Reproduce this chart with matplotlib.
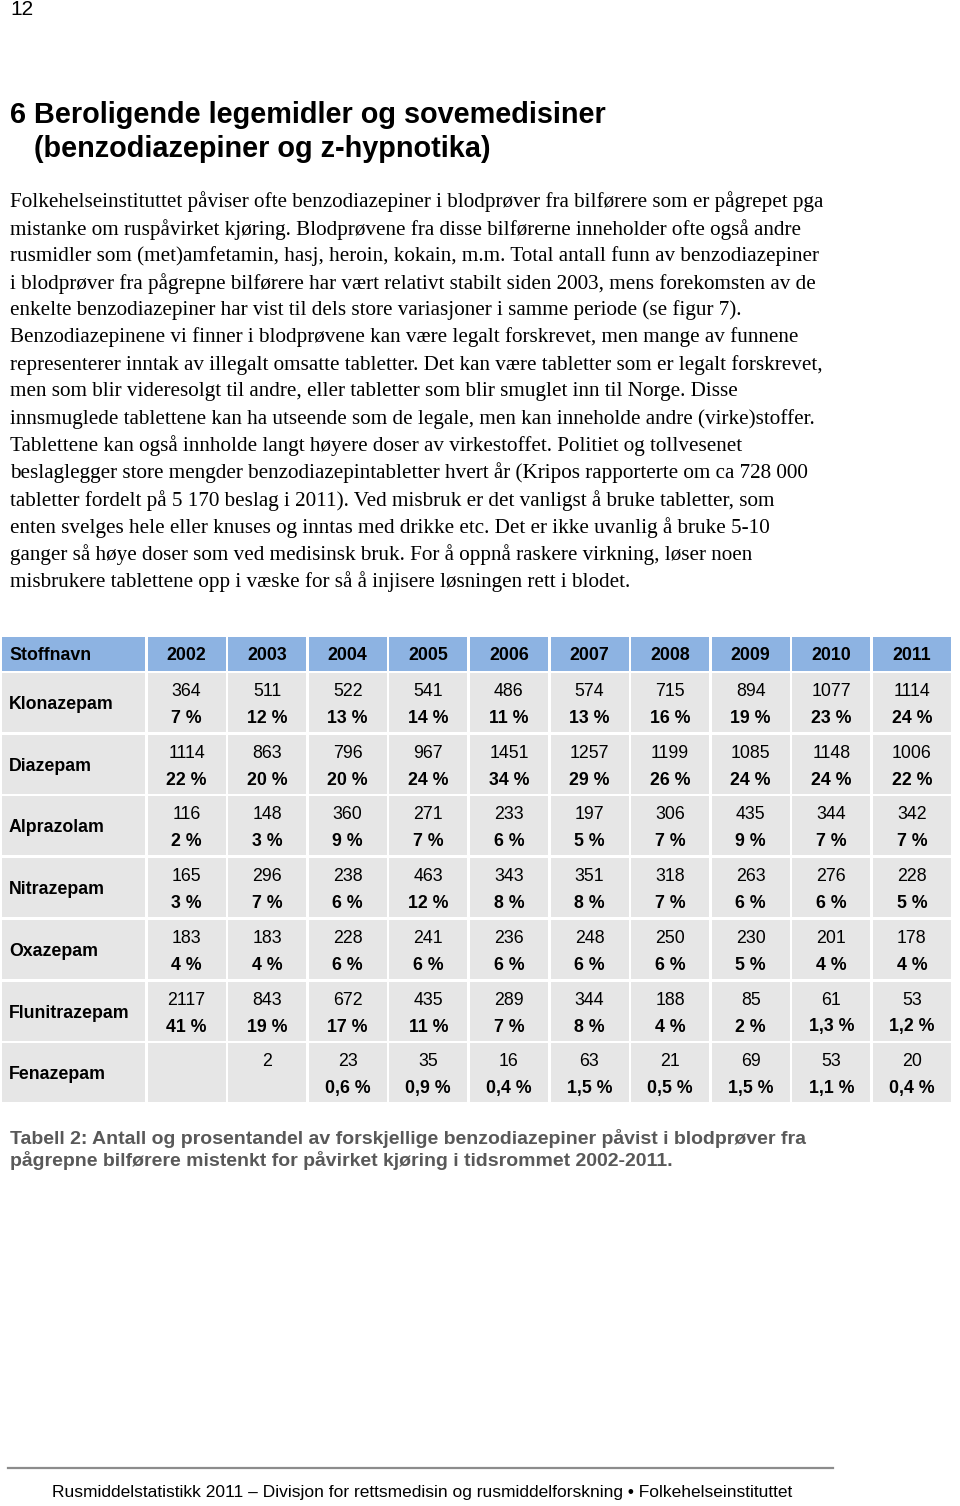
import matplotlib.pyplot as plt
from matplotlib.patches import Rectangle

W, H = 960, 1506

names = ["Klonazepam", "Diazepam", "Alprazolam", "Nitrazepam", "Oxazepam",
         "Flunitrazepam", "Fenazepam"]
years = [2002, 2003, 2004, 2005, 2006, 2007, 2008, 2009, 2010, 2011]

counts = [
    [364, 511, 522, 541, 486, 574, 715, 894, 1077, 1114],
    [1114, 863, 796, 967, 1451, 1257, 1199, 1085, 1148, 1006],
    [116, 148, 360, 271, 233, 197, 306, 435, 344, 342],
    [165, 296, 238, 463, 343, 351, 318, 263, 276, 228],
    [183, 183, 228, 241, 236, 248, 250, 230, 201, 178],
    [2117, 843, 672, 435, 289, 344, 188, 85, 61, 53],
    [None, 2, 23, 35, 16, 63, 21, 69, 53, 20],
]
percents = [
    [7, 12, 13, 14, 11, 13, 16, 19, 23, 24],
    [22, 20, 20, 24, 34, 29, 26, 24, 24, 22],
    [2, 3, 9, 7, 6, 5, 7, 9, 7, 7],
    [3, 7, 6, 12, 8, 8, 7, 6, 6, 5],
    [4, 4, 6, 6, 6, 6, 6, 5, 4, 4],
    [41, 19, 17, 11, 7, 8, 4, 2, 1.3, 1.2],
    [None, None, 0.6, 0.9, 0.4, 1.5, 0.5, 1.5, 1.1, 0.4],
]

title = ["6 Beroligende legemidler og sovemedisiner",
         "(benzodiazepiner og z-hypnotika)"]
body = [
    "Folkehelseinstituttet påviser ofte benzodiazepiner i blodprøver fra bilførere som er pågrepet pga",
    "mistanke om ruspåvirket kjøring. Blodprøvene fra disse bilførerne inneholder ofte også andre",
    "rusmidler som (met)amfetamin, hasj, heroin, kokain, m.m. Total antall funn av benzodiazepiner",
    "i blodprøver fra pågrepne bilførere har vært relativt stabilt siden 2003, mens forekomsten av de",
    "enkelte benzodiazepiner har vist til dels store variasjoner i samme periode (se figur 7).",
    "Benzodiazepinene vi finner i blodprøvene kan være legalt forskrevet, men mange av funnene",
    "representerer inntak av illegalt omsatte tabletter. Det kan være tabletter som er legalt forskrevet,",
    "men som blir videresolgt til andre, eller tabletter som blir smuglet inn til Norge. Disse",
    "innsmuglede tablettene kan ha utseende som de legale, men kan inneholde andre (virke)stoffer.",
    "Tablettene kan også innholde langt høyere doser av virkestoffet. Politiet og tollvesenet",
    "beslaglegger store mengder benzodiazepintabletter hvert år (Kripos rapporterte om ca 728 000",
    "tabletter fordelt på 5 170 beslag i 2011). Ved misbruk er det vanligst å bruke tabletter, som",
    "enten svelges hele eller knuses og inntas med drikke etc. Det er ikke uvanlig å bruke 5-10",
    "ganger så høye doser som ved medisinsk bruk. For å oppnå raskere virkning, løser noen",
    "misbrukere tablettene opp i væske for så å injisere løsningen rett i blodet.",
]
caption = ["Tabell 2: Antall og prosentandel av forskjellige benzodiazepiner påvist i blodprøver fra",
           "pågrepne bilførere mistenkt for påvirket kjøring i tidsrommet 2002-2011."]
footer = "Rusmiddelstatistikk 2011 \u2013 Divisjon for rettsmedisin og rusmiddelforskning \u2022 Folkehelseinstituttet"

SANS = ["Liberation Sans", "DejaVu Sans"]
SERIF = ["Liberation Serif", "DejaVu Serif"]
NARROW = ["Liberation Sans Narrow", "Liberation Sans", "DejaVu Sans"]


def fmt_pct(v):
    return ("%g" % v).replace(".", ",") + " %"


fig = plt.figure(figsize=(W / 100, H / 100), dpi=100)
ax = fig.add_axes([0, 0, 1, 1])
ax.set_xlim(0, W)
ax.set_ylim(H, 0)
ax.axis("off")

# page text
ax.text(10, 9, "12", fontsize=15, family=SANS, va="center", ha="left")
ax.text(10, 115, title[0], fontsize=20.8, family=SANS, weight="bold", va="center")
ax.text(34, 149, title[1], fontsize=20.8, family=SANS, weight="bold", va="center")
for i, line in enumerate(body):
    ax.text(10, 202 + 27.1 * i, line, fontsize=15.2, family=SERIF, va="center")

# table
header_c = "#8DB3E2"
cell_c = "#E6E6E6"
x0, name_w = 2, 143
col_x0, col_pitch, col_w = 147.5, 80.6, 78
head_top, head_h = 637, 34
row_top, row_pitch, row_h = 673, 61.7, 59

ax.add_patch(Rectangle((x0, head_top), name_w, head_h, color=header_c, lw=0))
ax.text(x0 + 7, head_top + head_h / 2 + 1.5, "Stoffnavn", fontsize=12.8, family=SANS,
        weight="bold", va="center")
for j, yr in enumerate(years):
    cx = col_x0 + j * col_pitch
    ax.add_patch(Rectangle((cx, head_top), col_w, head_h, color=header_c, lw=0))
    ax.text(cx + col_w / 2, head_top + head_h / 2 + 1.5, str(yr), fontsize=12.8,
            family=SANS, weight="bold", ha="center", va="center")

for i, name in enumerate(names):
    ry = row_top + i * row_pitch
    ax.add_patch(Rectangle((x0, ry), name_w, row_h, color=cell_c, lw=0))
    ax.text(x0 + 7, ry + 31.5, name, fontsize=12.8, family=SANS, weight="bold", va="center")
    for j in range(len(years)):
        cx = col_x0 + j * col_pitch
        ax.add_patch(Rectangle((cx, ry), col_w, row_h, color=cell_c, lw=0))
        if counts[i][j] is not None:
            ax.text(cx + col_w / 2, ry + 18.5, str(counts[i][j]), fontsize=12.8,
                    family=SANS, ha="center", va="center")
        if percents[i][j] is not None:
            ax.text(cx + col_w / 2, ry + 45.5, fmt_pct(percents[i][j]), fontsize=12.8,
                    family=SANS, weight="bold", ha="center", va="center")

# caption
for i, line in enumerate(caption):
    ax.text(10, 1138 + 23 * i, line, fontsize=14, family=SANS, weight="bold",
            color="#595959", va="center")

# footer
ax.plot([8, 833], [1468, 1468], color="#8C8C8C", lw=1.6)
ax.text(52, 1493, footer, fontsize=12.5, family=NARROW, va="center")

fig.savefig("out.png", dpi=100, facecolor="white")
